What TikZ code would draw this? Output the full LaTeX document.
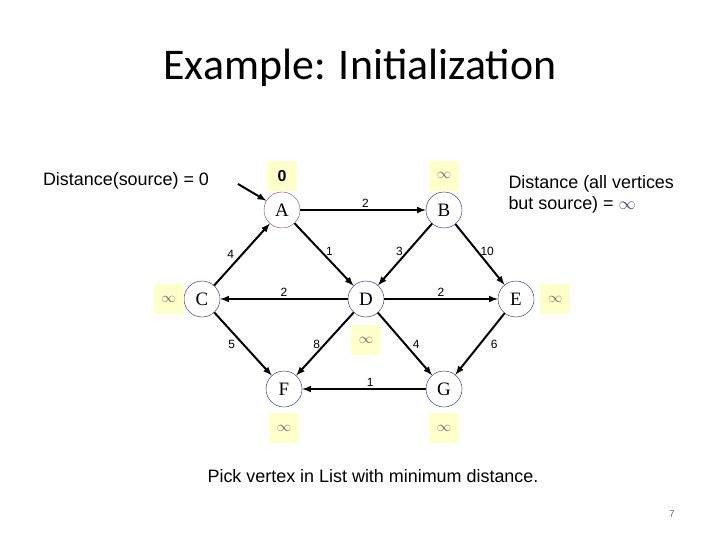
\documentclass[tikz,border=0pt]{standalone}
\usepackage{fontspec}
\setmainfont{Liberation Sans}
\newfontfamily\titlefont{Carlito}
\newfontfamily\vertexfont{Liberation Serif}
\usetikzlibrary{positioning}

\definecolor{distbg}{RGB}{255,255,204}
\definecolor{infgray}{RGB}{110,110,110}
\definecolor{rimblue}{RGB}{30,30,110}
\definecolor{rimred}{RGB}{140,70,70}

\tikzset{
  vertex/.style={circle, draw=rimblue, fill=white, minimum size=36bp, inner sep=0pt,
    font=\vertexfont\fontsize{19}{19}\selectfont},
  dist/.style={fill=distbg, minimum width=30bp, minimum height=30bp, inner sep=0pt,
    text=infgray, font=\fontsize{15}{15}\selectfont},
  wt/.style={font=\fontsize{12}{12}\selectfont, inner sep=2pt},
  edge/.style={->, line width=2bp}
}

\begin{document}
\begin{tikzpicture}[>=latex, x=1bp, y=-1bp]
\useasboundingbox (0,0) rectangle (720,540);
% title
\node[font=\titlefont\fontsize{44}{44}\selectfont] (title) at (360,68) {Example: Initialization};

% vertices
\node[vertex, draw=rimred] (a) at (282,210) {A};
\node[vertex] (b) at (444,210) {B};
\node[vertex] (c) at (202,299) {C};
\node[vertex] (d) at (366,299) {D};
\node[vertex] (e) at (516,299) {E};
\node[vertex] (f) at (284,389) {F};
\node[vertex] (g) at (444,389) {G};

% distances
\node[dist, text=black, font=\bfseries\fontsize{16}{16}\selectfont, above=1bp of a] (da) {0};
\node[dist, above=1bp of b] (db) {$\infty$};
\node[dist, left=0bp of c] (dc) {$\infty$};
\node[dist, below=8bp of d] (dd) {$\infty$};
\node[dist, right=6bp of e] (de) {$\infty$};
\node[dist, below=6bp of f] (df) {$\infty$};
\node[dist, below=6bp of g] (dg) {$\infty$};

% edges
\draw[edge] (a) -- node[wt, above, pos=0.52] {2} (b);
\draw[edge] (c) -- node[wt, left=5bp] {4} (a);
\draw[edge] (a) -- node[wt, right=2bp, pos=0.45] {1} (d);
\draw[edge] (b) -- node[wt, left=2bp, pos=0.45] {3} (d);
\draw[edge] (b) -- node[wt, right=0bp, pos=0.45] {10} (e);
\draw[edge] (d) -- node[wt, above] {2} (c);
\draw[edge] (d) -- node[wt, above] {2} (e);
\draw[edge] (c) -- node[wt, left=5bp] {5} (f);
\draw[edge] (d) -- node[wt, left=2bp] {8} (f);
\draw[edge] (d) -- node[wt, right=5bp] {4} (g);
\draw[edge] (e) -- node[wt, right=8bp] {6} (g);
\draw[edge] (g) -- node[wt, above, pos=0.45] {1} (f);

% notes
\node[font=\fontsize{18}{18}\selectfont] (srctext) at (126,181) {Distance(source) = 0};
\coordinate (srcarrow) at (238,184);
\draw[edge] (srcarrow) -- (a);
\node[font=\fontsize{18}{21}\selectfont, align=left, anchor=west] (alltext) at (505,194.5)
  {Distance (all vertices\\but source) = \textcolor{rimblue!60!gray}{$\infty$}};
\node[font=\fontsize{18}{18}\selectfont] (picktext) at (373,476) {Pick vertex in List with minimum distance.};
\node[font=\fontsize{10}{10}\selectfont, text=infgray] (pageno) at (672,514) {7};
\end{tikzpicture}
\end{document}
